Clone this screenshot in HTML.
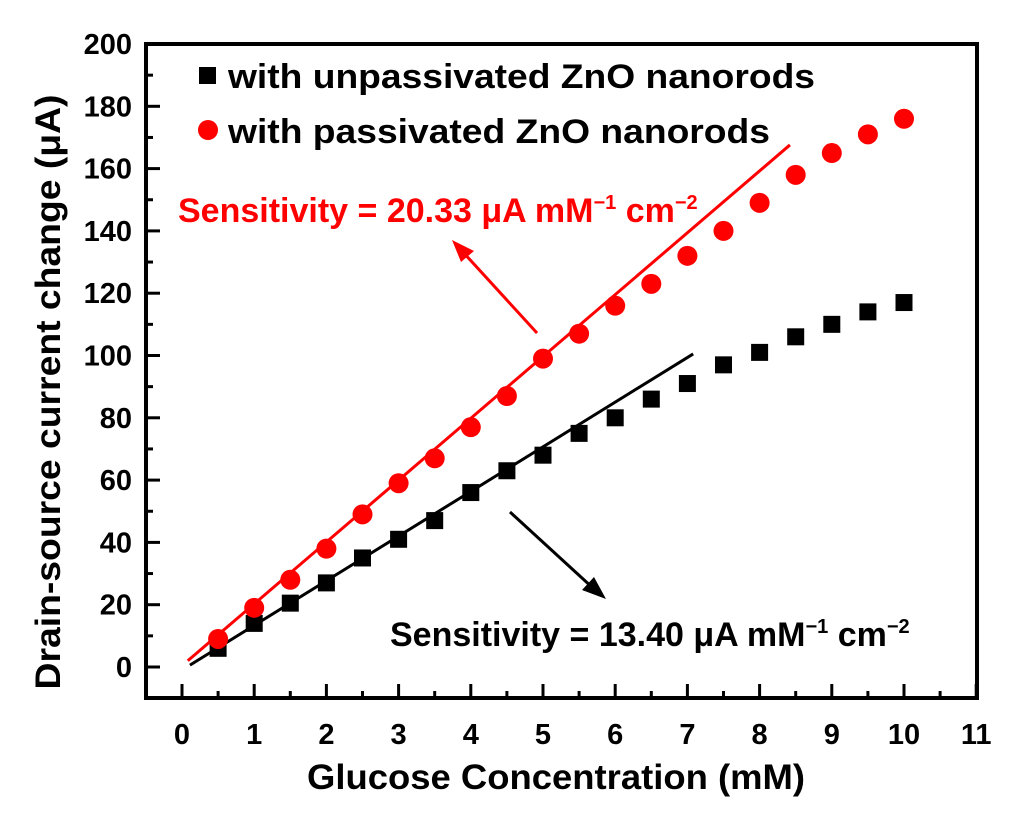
<!DOCTYPE html>
<html><head><meta charset="utf-8"><style>
body{margin:0;background:#fff}
svg text{font-family:"Liberation Sans",Arial,sans-serif;font-weight:bold}
</style></head><body>
<svg id="chart" width="1024" height="820" viewBox="0 0 1024 820" xmlns="http://www.w3.org/2000/svg">
<g id="axes"></g><g id="marks"></g>
<text transform="translate(60,392) rotate(-90)" text-anchor="middle" font-size="35" textLength="595" lengthAdjust="spacingAndGlyphs">Drain-source current change (μA)</text>
<text x="556" y="789" text-anchor="middle" font-size="35" textLength="498" lengthAdjust="spacingAndGlyphs">Glucose Concentration (mM)</text>
<rect x="199" y="67" width="17" height="17" fill="#000"/>
<text x="228" y="88" font-size="34" textLength="587" lengthAdjust="spacingAndGlyphs">with unpassivated ZnO nanorods</text>
<circle cx="208" cy="130" r="10" fill="#f00"/>
<text x="228" y="143" font-size="34" textLength="542" lengthAdjust="spacingAndGlyphs">with passivated ZnO nanorods</text>
<text x="178" y="222" font-size="34" fill="#f00">Sensitivity = 20.33 μA mM<tspan dy="-13" font-size="20">−1</tspan><tspan dy="13"> cm</tspan><tspan dy="-13" font-size="20">−2</tspan></text>
<text x="390" y="646" font-size="34">Sensitivity = 13.40 μA mM<tspan dy="-13" font-size="20">−1</tspan><tspan dy="13"> cm</tspan><tspan dy="-13" font-size="20">−2</tspan></text>
<g stroke="#f00" stroke-width="3" fill="#f00">
<line x1="537" y1="333" x2="462" y2="251"/><polygon points="452,240 474,251 461,262" stroke="none"/></g>
<g stroke="#000" stroke-width="3" fill="#000">
<line x1="510" y1="512" x2="594" y2="589"/><polygon points="606,599 582,590 594,577" stroke="none"/></g>
</svg>
<script>
const xValues=[0.5,1,1.5,2,2.5,3,3.5,4,4.5,5,5.5,6,6.5,7,7.5,8,8.5,9,9.5,10];
const passivated=[9,19,28,38,49,59,67,77,87,99,107,116,123,132,140,149,158,165,171,176];
const unpassivated=[6,14,20.5,27,35,41,47,56,63,68,75,80,86,91,97,101,106,110,114,117];
const redFit=[[0.08,2],[8.42,167.6]];
const blackFit=[[0.11,0.6],[7.08,100.5]];
const xTicks=[0,1,2,3,4,5,6,7,8,9,10,11];
const yTicks=[0,20,40,60,80,100,120,140,160,180,200];
const NS="http://www.w3.org/2000/svg";
const X=v=>182+v*72.2, Y=v=>667-v*3.115;
function mk(t,a,p){const e=document.createElementNS(NS,t);for(const k in a)e.setAttribute(k,a[k]);p.appendChild(e);return e;}
const ax=document.getElementById('axes'), mg=document.getElementById('marks');
const fr=mk('rect',{x:146,y:44,width:831,height:654,fill:'none',stroke:'#000','stroke-width':4},ax);


xTicks.forEach(v=>{
 const l=mk('line',{x1:X(v),x2:X(v),y1:698,y2:684,stroke:'#000','stroke-width':3},ax);
 
 
 if(v<11){const m=mk('line',{x1:X(v+0.5),x2:X(v+0.5),y1:698,y2:691,stroke:'#000','stroke-width':3},ax);
 
 }
 const t=mk('text',{x:X(v),y:744,'text-anchor':'middle','font-size':29},ax);t.textContent=v;
 
 
});
yTicks.forEach(v=>{
 const l=mk('line',{x1:146,x2:160,y1:Y(v),y2:Y(v),stroke:'#000','stroke-width':3},ax);
 
 
 const m=mk('line',{x1:146,x2:153,y1:Y(v-10),y2:Y(v-10),stroke:'#000','stroke-width':3},ax);
 
 
 const t=mk('text',{x:132,y:Y(v)+10,'text-anchor':'end','font-size':29},ax);t.textContent=v;
 
 
});
const rl=mk('line',{x1:X(redFit[0][0]),y1:Y(redFit[0][1]),x2:X(redFit[1][0]),y2:Y(redFit[1][1]),stroke:'#f00','stroke-width':3},mg);


const bl=mk('line',{x1:X(blackFit[0][0]),y1:Y(blackFit[0][1]),x2:X(blackFit[1][0]),y2:Y(blackFit[1][1]),stroke:'#000','stroke-width':3},mg);


xValues.forEach((x,i)=>{
 const s=mk('rect',{x:X(x)-8.5,y:Y(unpassivated[i])-8.5,width:17,height:17,fill:'#000'},mg);
 
 
 const c=mk('circle',{cx:X(x),cy:Y(passivated[i]),r:10,fill:'#f00'},mg);
 
 
});
</script>
</body></html>
